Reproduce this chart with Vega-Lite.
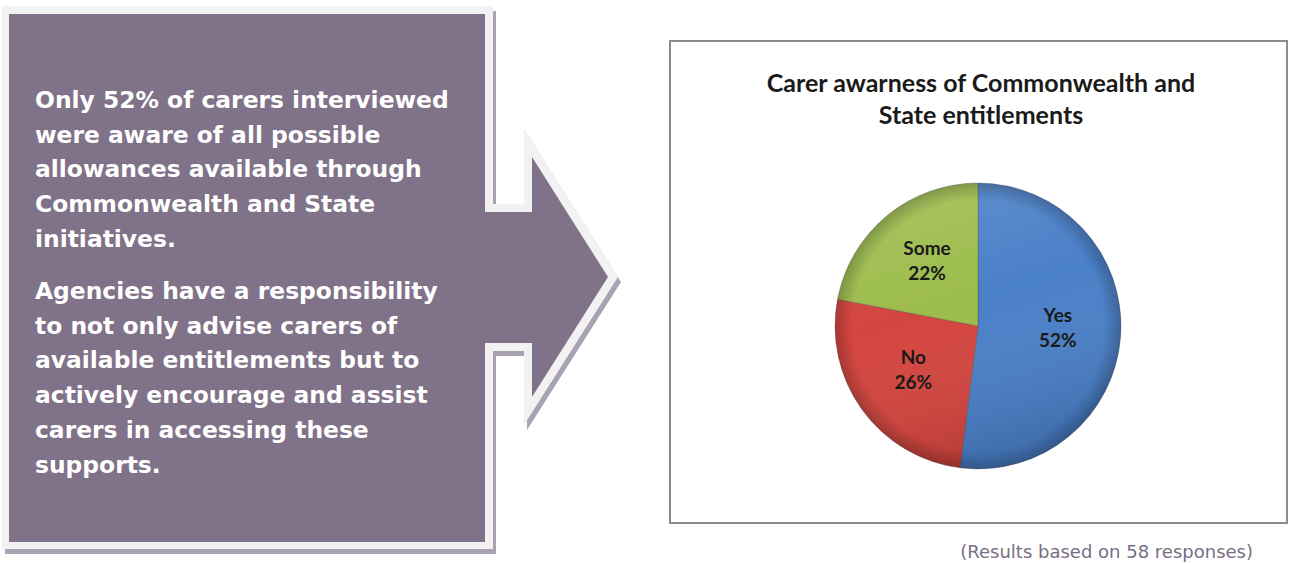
{
  "$schema": "https://vega.github.io/schema/vega-lite/v6.json",
  "width": 1289,
  "height": 563,
  "autosize": {"type": "none"},
  "padding": 0,
  "background": "white",
  "config": {"view": {"stroke": null}},
  "datasets": {
    "notes": [
      {"para": 1, "text": "Only 52% of carers interviewed\nwere aware of all possible\nallowances available through\nCommonwealth and State\ninitiatives."},
      {"para": 2, "text": "Agencies have a responsibility\nto not only advise carers of\navailable entitlements but to\nactively encourage and assist\ncarers in accessing these\nsupports."}
    ],
    "awareness": [
      {"answer": "Yes", "share": 0.52},
      {"answer": "No", "share": 0.26},
      {"answer": "Some", "share": 0.22}
    ],
    "one": [{}]
  },
  "encoding": {
    "x": {"datum": 0, "type": "quantitative", "scale": {"domain": [0, 1289], "nice": false, "zero": false}, "axis": null},
    "y": {"datum": 0, "type": "quantitative", "scale": {"domain": [0, 563], "reverse": true, "nice": false, "zero": false}, "axis": null}
  },
  "layer": [
    {
      "data": {"name": "one"},
      "mark": {"type": "point", "filled": true, "opacity": 1, "strokeWidth": 0, "size": 4, "color": "#aaa2b3",
        "shape": "M5,11L496,11L496,209L527,209L527,134L621,282L527,430L527,356L496,356L496,554L5,554Z"}
    },
    {
      "data": {"name": "one"},
      "mark": {"type": "point", "filled": true, "opacity": 1, "strokeWidth": 0, "size": 4, "color": "#f2f2f2",
        "shape": "M2,6L493,6L493,204L524,204L524,129L618,277L524,425L524,351L493,351L493,549L2,549Z"}
    },
    {
      "data": {"name": "one"},
      "mark": {"type": "point", "filled": true, "opacity": 1, "strokeWidth": 0, "size": 4, "color": "#807389",
        "shape": "M9,14L485,14L485,212L532,212L532,157L608,277L532,397L532,343L485,343L485,542L9,542Z"}
    },
    {
      "data": {"name": "notes"},
      "transform": [{"filter": "datum.para == 1"}],
      "mark": {"type": "text", "align": "left", "baseline": "alphabetic", "font": "DejaVu Sans", "fontWeight": "bold", "fontSize": 23.4, "lineHeight": 34.7, "lineBreak": "\n", "color": "#ffffff"},
      "encoding": {
        "x": {"datum": 35, "type": "quantitative"},
        "y": {"datum": 108, "type": "quantitative"},
        "text": {"field": "text", "type": "nominal"}
      }
    },
    {
      "data": {"name": "notes"},
      "transform": [{"filter": "datum.para == 2"}],
      "mark": {"type": "text", "align": "left", "baseline": "alphabetic", "font": "DejaVu Sans", "fontWeight": "bold", "fontSize": 23.4, "lineHeight": 34.7, "lineBreak": "\n", "color": "#ffffff"},
      "encoding": {
        "x": {"datum": 35, "type": "quantitative"},
        "y": {"datum": 299, "type": "quantitative"},
        "text": {"field": "text", "type": "nominal"}
      }
    },
    {
      "data": {"name": "one"},
      "mark": {"type": "rect", "fill": "#ffffff", "stroke": "#8c8c8c", "strokeWidth": 2},
      "encoding": {
        "x": {"datum": 670, "type": "quantitative"},
        "x2": {"datum": 1287},
        "y": {"datum": 41, "type": "quantitative"},
        "y2": {"datum": 523}
      }
    },
    {
      "data": {"name": "one"},
      "mark": {"type": "text", "align": "center", "baseline": "alphabetic", "font": "Lato", "fontWeight": "bold", "fontSize": 25, "lineHeight": 31.6, "color": "#1a1a1a",
        "text": ["Carer awarness of Commonwealth and", "State entitlements"]},
      "encoding": {
        "x": {"datum": 981, "type": "quantitative"},
        "y": {"datum": 92, "type": "quantitative"}
      }
    },
    {
      "data": {"name": "awareness"},
      "encoding": {
        "x": {"datum": 978, "type": "quantitative"},
        "y": {"datum": 326, "type": "quantitative"},
        "theta": {"field": "share", "type": "quantitative", "stack": true},
        "order": {"field": "share", "type": "quantitative", "sort": "descending"}
      },
      "layer": [
        {
          "mark": {"type": "arc", "outerRadius": 143, "stroke": "#3d3d3d", "strokeOpacity": 0.3, "strokeWidth": 1},
          "encoding": {
            "color": {"field": "answer", "type": "nominal", "scale": {"domain": ["Yes", "No", "Some"], "range": ["#4a80c8", "#d4453f", "#9cbc4b"]}, "legend": null}
          }
        }
      ]
    },
    {
      "data": {"name": "one"},
      "mark": {"type": "point", "shape": "circle", "filled": true, "opacity": 1, "strokeWidth": 0, "size": 81796,
        "fill": {"gradient": "linear", "x1": 0, "y1": 0, "x2": 0.3, "y2": 1,
          "stops": [{"offset": 0, "color": "rgba(255,255,255,0.14)"}, {"offset": 0.5, "color": "rgba(255,255,255,0)"}, {"offset": 1, "color": "rgba(0,0,0,0.12)"}]}},
      "encoding": {
        "x": {"datum": 978, "type": "quantitative"},
        "y": {"datum": 326, "type": "quantitative"}
      }
    },
    {
      "data": {"name": "one"},
      "mark": {"type": "point", "shape": "circle", "filled": true, "opacity": 1, "strokeWidth": 0, "size": 81796,
        "fill": {"gradient": "radial", "x1": 0.5, "y1": 0.5, "r1": 0, "x2": 0.5, "y2": 0.5, "r2": 0.5,
          "stops": [{"offset": 0, "color": "rgba(0,0,0,0)"}, {"offset": 0.88, "color": "rgba(0,0,0,0)"}, {"offset": 1, "color": "rgba(0,0,0,0.22)"}]}},
      "encoding": {
        "x": {"datum": 978, "type": "quantitative"},
        "y": {"datum": 326, "type": "quantitative"}
      }
    },
    {
      "data": {"name": "awareness"},
      "encoding": {
        "x": {"datum": 978, "type": "quantitative"},
        "y": {"datum": 326, "type": "quantitative"},
        "theta": {"field": "share", "type": "quantitative", "stack": true},
        "order": {"field": "share", "type": "quantitative", "sort": "descending"},
        "detail": {"field": "answer", "type": "nominal"}
      },
      "layer": [
        {
          "mark": {"type": "text", "radius": 80, "dy": -15, "font": "Lato", "fontWeight": "bold", "fontSize": 19, "color": "#1a1a1a"},
          "encoding": {
            "text": {"field": "answer", "type": "nominal"}
          }
        },
        {
          "mark": {"type": "text", "radius": 80, "dy": 10, "font": "Lato", "fontWeight": "bold", "fontSize": 19, "color": "#1a1a1a"},
          "encoding": {
            "text": {"field": "share", "type": "quantitative", "format": ".0%"}
          }
        }
      ]
    },
    {
      "data": {"name": "one"},
      "mark": {"type": "text", "align": "right", "baseline": "alphabetic", "font": "DejaVu Sans", "fontSize": 18, "color": "#786e84",
        "text": "(Results based on 58 responses)"},
      "encoding": {
        "x": {"datum": 1253, "type": "quantitative"},
        "y": {"datum": 558, "type": "quantitative"}
      }
    }
  ]
}
